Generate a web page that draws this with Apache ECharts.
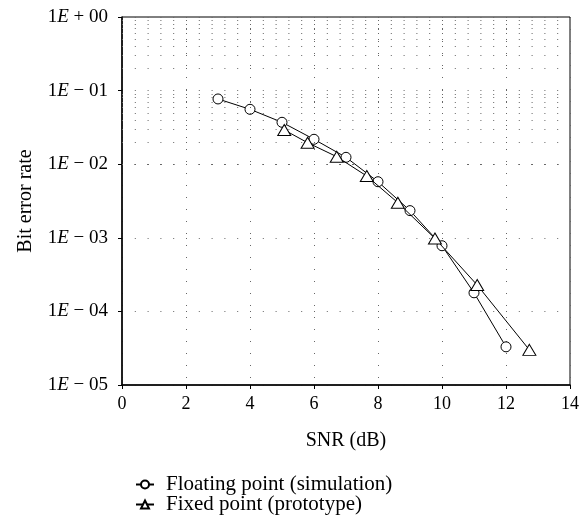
<!DOCTYPE html>
<html>
<head>
<meta charset="utf-8">
<script src="https://cdn.jsdelivr.net/npm/echarts@6/dist/echarts.min.js"></script>
<style>
  html, body { margin: 0; padding: 0; background: #fff; }
  #chart { width: 582px; height: 520px; }
</style>
</head>
<body>
<div id="chart"></div>
<script>
// 数据
var floatSnr = [3, 4, 5, 6, 7, 8, 9, 10, 11, 12];
var floatBer = [0.077, 0.0557, 0.0371, 0.0218, 0.0124, 0.00578, 0.00234, 0.00078, 0.000179, 0.000033];
var fixedSnr = [5.07, 5.8, 6.71, 7.65, 8.62, 9.78, 11.1, 12.73];
var fixedBer = [0.0292, 0.0196, 0.01265, 0.0069, 0.0030, 0.00098, 0.000228, 0.000030];
var yTickLabels = ['1E − 05', '1E − 04', '1E − 03', '1E − 02', '1E − 01', '1E + 00'];
var seriesNames = ['Floating point (simulation)', 'Fixed point (prototype)'];

var serif = 'Liberation Serif';

// 对数次网格 2..9 × 10^k
var minorRows = [];
for (var k = -5; k < 0; k++) {
  for (var m = 2; m <= 9; m++) {
    minorRows.push({ yAxis: m * Math.pow(10, k) });
  }
}

var dotted = { color: '#666', width: 1, type: [1, 11.8] };

// 图例：每行一个
function legendRow(name, top) {
  return {
    orient: 'vertical',
    left: 135, top: top,
    padding: 0,
    itemWidth: 18, itemHeight: 10,
    textStyle: { fontFamily: serif, fontSize: 21, lineHeight: 18, color: '#000', padding: [0, 0, 0, 7] },
    data: [name]
  };
}

var myChart = echarts.init(document.getElementById('chart'));
var option = {
  animation: false,
  backgroundColor: '#fff',
  grid: {
    left: 122, right: 12, top: 17, bottom: 135,
    show: true, borderColor: '#000', borderWidth: 1
  },
  legend: [legendRow(seriesNames[0], 474), legendRow(seriesNames[1], 494)],
  xAxis: {
    type: 'value',
    min: 0, max: 14, interval: 2,
    name: 'SNR (dB)',
    nameLocation: 'middle',
    nameGap: 46,
    nameTextStyle: { fontFamily: serif, fontSize: 20, color: '#000' },
    axisLine: { lineStyle: { color: '#000', width: 1.5 } },
    axisTick: { length: 4, lineStyle: { color: '#000' } },
    axisLabel: { fontFamily: serif, fontSize: 18, color: '#000', margin: 10 },
    splitLine: { show: true, lineStyle: { color: '#666', width: 1, type: [1, 11] } }
  },
  yAxis: {
    type: 'log',
    logBase: 10,
    min: 1e-5, max: 1,
    name: 'Bit error rate',
    nameLocation: 'middle',
    nameGap: 86,
    nameTextStyle: { fontFamily: serif, fontSize: 20, color: '#000' },
    axisLine: { lineStyle: { color: '#000', width: 1.5 } },
    axisTick: { length: 4, lineStyle: { color: '#000' } },
    axisLabel: {
      fontFamily: serif, fontSize: 19, color: '#000', margin: 14,
      formatter: function (v) {
        var e = Math.round(Math.log10(v));
        var s = yTickLabels[e + 5] || '';
        return s.replace('E', '{i|E}');
      },
      rich: {
        i: { fontFamily: serif, fontSize: 19, fontStyle: 'italic', color: '#000' }
      }
    },
    splitLine: { show: true, lineStyle: dotted }
  },
  series: [
    {
      name: seriesNames[0],
      type: 'line',
      data: floatSnr.map(function (x, i) { return [x, floatBer[i]]; }),
      symbol: 'circle',
      symbolSize: 10,
      z: 3,
      lineStyle: { color: '#000', width: 1 },
      itemStyle: { color: '#fff', borderColor: '#000', borderWidth: 1 },
      markLine: {
        silent: true,
        symbol: 'none',
        label: { show: false },
        lineStyle: dotted,
        emphasis: { disabled: true },
        data: minorRows
      }
    },
    {
      name: seriesNames[1],
      type: 'line',
      data: fixedSnr.map(function (x, i) { return [x, fixedBer[i]]; }),
      symbol: 'triangle',
      symbolSize: [13, 11],
      z: 4,
      lineStyle: { color: '#000', width: 1 },
      itemStyle: { color: '#fff', borderColor: '#000', borderWidth: 1 }
    }
  ]
};
myChart.setOption(option);
</script>
</body>
</html>
